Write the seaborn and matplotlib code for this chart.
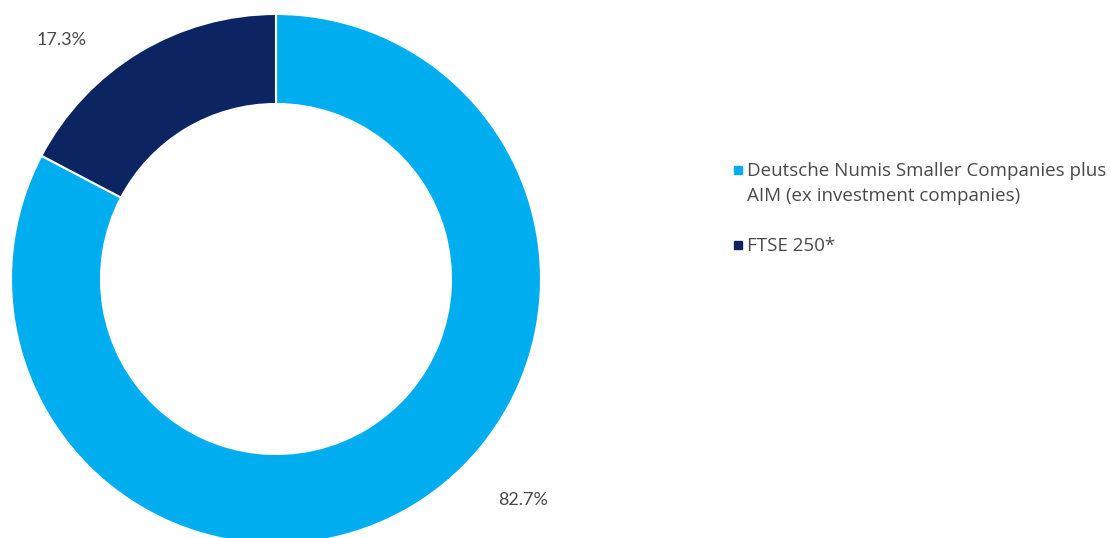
import matplotlib
matplotlib.use("Agg")
import matplotlib.pyplot as plt
import seaborn as sns
from matplotlib.patches import Rectangle

# data
labels = ["Deutsche Numis Smaller Companies plus\nAIM (ex investment companies)", "FTSE 250*"]
values = [82.7, 17.3]
colors = ["#00AEEF", "#0C2461"]
pct_text = ["82.7%", "17.3%"]

sns.set_style("white")
plt.rcParams['font.family'] = ['Lato', 'DejaVu Sans']

W, H = 1111, 538
fig = plt.figure(figsize=(W / 100, H / 100), dpi=100)

# donut: centre (276, 279) px, outer radius 265 px
cx, cy, r = 276, 279, 265
ax = fig.add_axes([(cx - r) / W, (H - cy - r) / H, 2 * r / W, 2 * r / H])
ax.pie(values, colors=colors, startangle=90, counterclock=False, radius=1,
       wedgeprops=dict(width=1 - 175 / 265, edgecolor="white", linewidth=1.5))
ax.set_xlim(-1, 1)
ax.set_ylim(-1, 1)
ax.set_aspect("equal")
ax.axis("off")

# percentage labels
txt_color = "#4a4a4a"
fig.text(523 / W, 1 - 500 / H, pct_text[0], ha="center", va="center", fontsize=13, color=txt_color)
fig.text(62 / W, 1 - 40 / H, pct_text[1], ha="center", va="center", fontsize=13, color=txt_color)

# legend
leg_y = [170, 245]
for lab, col, y in zip(labels, colors, leg_y):
    fig.patches.append(Rectangle((734 / W, 1 - (y + 4) / H), 8 / W, 8 / H,
                                 transform=fig.transFigure, color=col, figure=fig))
    fig.text(747 / W, 1 - (y - 8) / H, lab, ha="left", va="top", fontsize=13.5,
             color=txt_color, linespacing=1.5, family=['Open Sans', 'DejaVu Sans'])

fig.savefig("out.png", dpi=100)
